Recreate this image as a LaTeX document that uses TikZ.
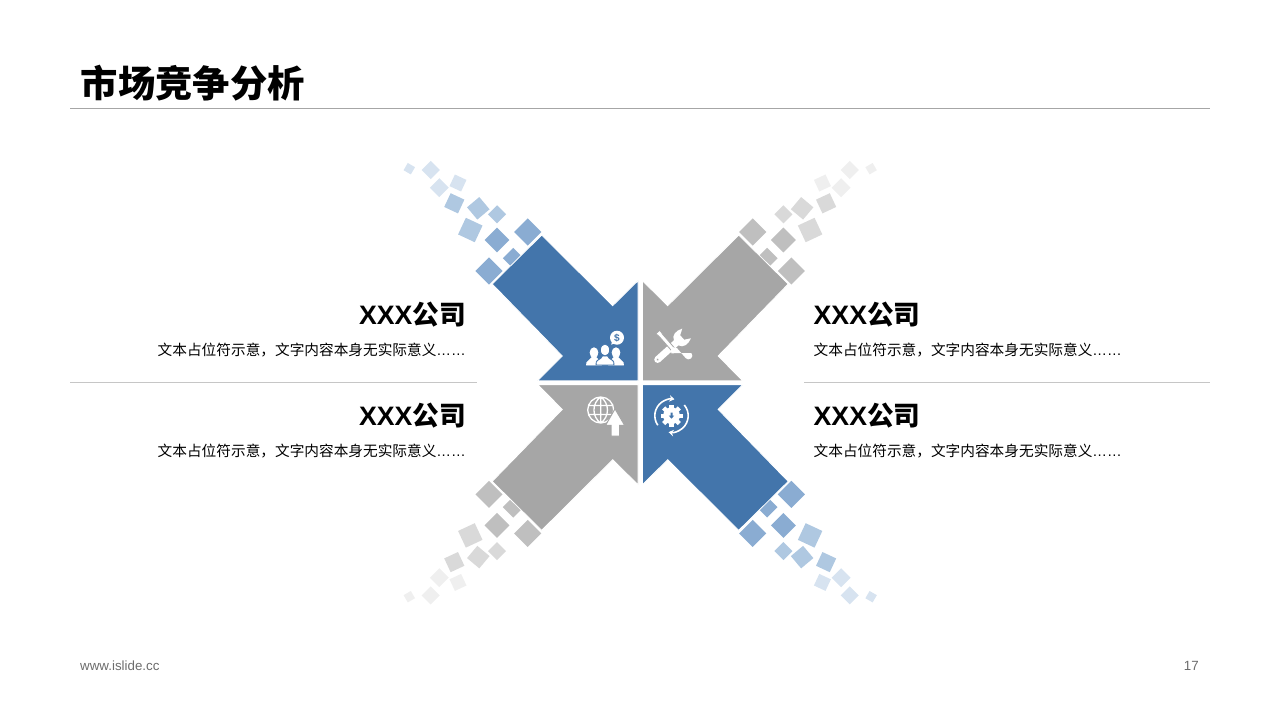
\documentclass[tikz,border=0pt]{standalone}
\usepackage{fontspec}
\setmainfont{Liberation Sans}
\newfontfamily\cjk{Noto Sans CJK SC}
\usepackage{tikz}
\usetikzlibrary{arrows.meta}
\definecolor{blue0}{HTML}{4375AB}
\definecolor{blue1}{HTML}{8AACD2}
\definecolor{blue2}{HTML}{AFC8E1}
\definecolor{blue3}{HTML}{D7E3F0}
\definecolor{gray0}{HTML}{A6A6A6}
\definecolor{gray1}{HTML}{BFBFBF}
\definecolor{gray2}{HTML}{D9D9D9}
\definecolor{gray3}{HTML}{EFEFEF}
% one arrow with its trail of squares, mirrored by the two scales
\newcommand{\quadrant}[3]{
  \begin{scope}[shift={(640.2,382.7)},xscale=#1,yscale=#2]
    \foreach \x/\y/\s/\a/\c in {-230.9/-214/4.2/-30/3,-209.5/-212.7/6.4/45/3,-200.9/-195/6.7/45/3,-182.2/-199.7/6.4/-25/3,
        -185.9/-179.4/7.6/-25/2,-161.9/-174.4/8/-50/2,-143.2/-168.4/6.4/45/2,-169.9/-152.7/9.2/-25/2,
        -143.2/-142.7/8.8/45/1,-112.5/-150.7/9.6/45/1,-126.9/-124.4/7.4/45/1,-151.2/-111.7/9.6/45/1}
      \fill[fill=#3\c,shift={(\x,\y)},rotate=\a] (-\s,-\s) rectangle (\s,\s);
    \fill[fill=#30,draw=white,line width=0.8pt] (-98.5,-147.6) -- (-27.5,-77) -- (-2.2,-102) -- (-2.2,-1.9)
      -- (-102.6,-1.9) -- (-77.9,-26.7) -- (-148,-98.7) -- cycle;
  \end{scope}
}
% head and shoulders, standing on the point given
\newcommand{\iconperson}[4]{
  \filldraw[fill=white,draw=#4,line width=0.9pt,shift={(#1,#2)},scale=#3] (0,-15) ellipse (4.7 and 6)
    (-9,0) -- (-8.7,-3) .. controls (-8,-5.5) and (-4,-5.5) .. (-2.7,-9) -- (2.7,-9)
    .. controls (4,-5.5) and (8,-5.5) .. (8.7,-3) -- (9,0) -- cycle;
}
\tikzset{
  heading/.style={font=\fontsize{26.67}{30}\selectfont\bfseries},
  bodytext/.style={font=\fontsize{14.67}{18}\selectfont},
  rule/.style={draw=gray!45,line width=0.8pt},
  ring/.style={white,line width=1.6pt,-{Stealth[length=5pt,width=6.5pt]}}
}
\newcommand{\headtext}{XXX{\cjk 公司}}
\newcommand{\placeholder}{{\cjk 文本占位符示意，文字内容本身无实际意义}……}
\begin{document}
\begin{tikzpicture}[x=1pt,y=-1pt]
  \useasboundingbox (0,0) rectangle (1280,720);

  \node (title) [anchor=west,inner sep=0pt,font=\fontsize{37.33}{40}\selectfont\bfseries\cjk] at (80.5,83) {市场竞争分析};
  \coordinate (titleL) at (70,108.5);
  \coordinate (titleR) at (1210,108.5);
  \draw [draw=gray0,line width=0.8pt] (titleL) -- (titleR);

  \quadrant{1}{1}{blue}
  \quadrant{-1}{1}{gray}
  \quadrant{1}{-1}{gray}
  \quadrant{-1}{-1}{blue}

  % left column
  \node (headA) [heading,anchor=east,inner sep=0pt] at (466,315) {\headtext};
  \node (bodyA) [bodytext,anchor=east,inner sep=0pt] at (466,350.5) {\placeholder};
  \node (headB) [heading,anchor=east,inner sep=0pt] at (466,416) {\headtext};
  \node (bodyB) [bodytext,anchor=east,inner sep=0pt] at (466,451.5) {\placeholder};
  \coordinate (ruleAL) at (70,382.5);
  \coordinate (ruleAR) at (477,382.5);
  \draw [rule] (ruleAL) -- (ruleAR);

  % right column
  \node (headC) [heading,anchor=west,inner sep=0pt] at (813.5,315) {\headtext};
  \node (bodyC) [bodytext,anchor=west,inner sep=0pt] at (813.5,350.5) {\placeholder};
  \node (headD) [heading,anchor=west,inner sep=0pt] at (813.5,416) {\headtext};
  \node (bodyD) [bodytext,anchor=west,inner sep=0pt] at (813.5,451.5) {\placeholder};
  \coordinate (ruleBL) at (804,382.5);
  \coordinate (ruleBR) at (1210,382.5);
  \draw [rule] (ruleBL) -- (ruleBR);

  % people icon
  \iconperson{594}{365}{0.82}{white}
  \iconperson{616}{365}{0.82}{white}
  \iconperson{605}{365}{1}{blue0}
  \fill [white] (617,337.7) circle (7);
  \fill [white] (612.5,340) -- (611.2,344.6) -- (616,343) -- cycle;
  \node (dollar) [inner sep=0pt,text=blue0,font=\fontsize{10}{10}\selectfont\bfseries] at (617,337.7) {\$};

  % tools icon
  \begin{scope}[shift={(671,347.5)},rotate=132]
    \fill [white] (-3.4,-18) arc (180:360:3.4) -- (3.4,7) .. controls (8.5,8.5) and (9.5,15) .. (6.5,21) -- (3,15)
      -- (-3,15) -- (-6.5,21) .. controls (-9.5,15) and (-8.5,8.5) .. (-3.4,7) -- cycle;
    \fill [gray0] (0,-18) circle (1.1);
  \end{scope}
  \begin{scope}[shift={(671,347)},rotate=-49]
    \filldraw [fill=white,draw=gray0,line width=0.8pt] (-20,-2.6) -- (-15,-2) -- (3,-2) -- (3,2) -- (-15,2) -- (-20,2.6) -- cycle;
    \fill [white] (2,-2) -- (5,-3.8) -- (18,-3.8) arc (90:-90:3.8) -- (5,3.8) -- (2,2) -- cycle;
  \end{scope}

  % globe icon
  \begin{scope}[shift={(600.7,410)}]
    \draw [white,line width=1.3pt] (0,0) circle (13) (0,-13) -- (0,13) (-12.5,-4.5) -- (12.5,-4.5) (-12.5,4.5) -- (12.5,4.5)
      (0,-13) .. controls (-9,-7) and (-9,7) .. (0,13) (0,-13) .. controls (9,-7) and (9,7) .. (0,13);
  \end{scope}
  \fill [white,draw=gray0,line width=1pt] (615,408.8) -- (624.6,425.3) -- (619.6,425.3) -- (619.6,436.2) -- (611.2,436.2) -- (611.2,425.3) -- (605.6,425.3) -- cycle;

  % gear icon
  \begin{scope}[shift={(671.5,415.7)}]
    \draw [ring] (145:16.7) arc [start angle=145,end angle=280,radius=16.7];
    \draw [ring] (320:16.7) arc [start angle=320,end angle=460,radius=16.7];
    \foreach \a in {0,45,...,315}
      \fill [white,rotate=\a] (-2.2,-11) rectangle (2.2,-6);
    \fill [white] (0,0) circle (8.4);
    \fill [blue0] (-1,-3.2) rectangle (1,0) (-2.6,0) -- (2.6,0) -- (0,3) -- cycle;
  \end{scope}

  \node (site) [anchor=west,inner sep=0pt,text=gray!85!black,font=\fontsize{13.33}{16}\selectfont] at (80,666) {www.islide.cc};
  \node (page) [anchor=east,inner sep=0pt,text=gray!85!black,font=\fontsize{13.33}{16}\selectfont] at (1199,666) {17};
\end{tikzpicture}
\end{document}
